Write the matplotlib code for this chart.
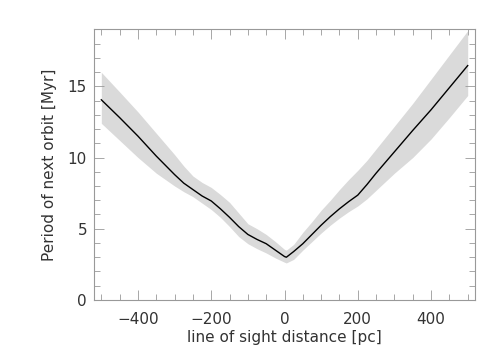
import numpy as np
import matplotlib.pyplot as plt
from matplotlib.ticker import MultipleLocator

# line of sight distance [pc]
distance = [-500, -450, -400, -350, -300, -275, -250, -225, -200, -175, -150,
            -125, -100, -75, -50, -25, 0, 5, 25, 50, 75, 100, 125, 150, 175,
            200, 225, 250, 300, 350, 400, 450, 500]
# period of next orbit [Myr], median and band
period = [14.05, 12.8, 11.5, 10.1, 8.8, 8.2, 7.75, 7.3, 6.95, 6.4, 5.8,
          5.15, 4.6, 4.25, 3.95, 3.5, 3.05, 3.0, 3.4, 3.95, 4.6, 5.25, 5.85,
          6.4, 6.9, 7.36, 8.1, 8.9, 10.4, 11.9, 13.35, 14.9, 16.45]
period_hi = [15.98, 14.6, 13.2, 11.7, 10.2, 9.4, 8.7, 8.25, 7.9, 7.4, 6.85,
             6.1, 5.35, 5.0, 4.6, 4.1, 3.55, 3.5, 3.9, 4.75, 5.5, 6.3, 7.0,
             7.75, 8.45, 9.1, 9.8, 10.6, 12.2, 13.8, 15.5, 17.2, 18.9]
period_lo = [12.4, 11.2, 10.0, 8.9, 8.0, 7.6, 7.25, 6.8, 6.35, 5.8, 5.15,
             4.45, 3.95, 3.6, 3.3, 2.95, 2.65, 2.6, 2.85, 3.5, 4.1, 4.7, 5.25,
             5.75, 6.2, 6.6, 7.1, 7.7, 8.9, 10.0, 11.3, 12.8, 14.35]

txt = '#333333'
grey = '#999999'

fig = plt.figure(figsize=(5.04, 3.6), dpi=100)
ax = fig.add_axes([0.1865, 0.1667, 0.756, 0.752])

ax.fill_between(distance, period_lo, period_hi, color='#dadada', lw=0)
ax.plot(distance, period, color='black', lw=1.0)

ax.set_xlim(-520, 520)
ax.set_ylim(0, 19)
ax.xaxis.set_major_locator(MultipleLocator(200))
ax.xaxis.set_minor_locator(MultipleLocator(50))
ax.yaxis.set_major_locator(MultipleLocator(5))
ax.yaxis.set_minor_locator(MultipleLocator(1))
ax.tick_params(which='both', direction='in', top=True, right=True,
               color=grey, width=0.6, labelcolor=txt, labelsize=11)
ax.tick_params(which='major', length=7)
ax.tick_params(which='minor', length=4)
ax.tick_params(axis='x', pad=9)
ax.tick_params(axis='y', pad=5)
for s in ax.spines.values():
    s.set_color(grey)
    s.set_linewidth(0.8)

ax.set_xlabel('line of sight distance [pc]', color=txt, fontsize=11, labelpad=2)
ax.set_ylabel('Period of next orbit [Myr]', color=txt, fontsize=11, labelpad=8)

fig.savefig('out.png', dpi=100)
